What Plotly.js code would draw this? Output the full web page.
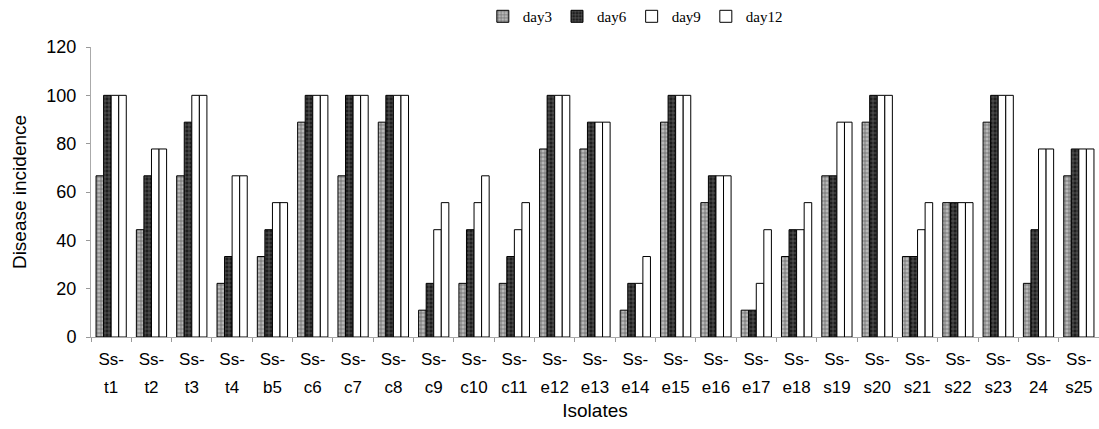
<!DOCTYPE html>
<html>
<head>
<meta charset="utf-8">
<script src="https://cdn.plot.ly/plotly-3.0.1.min.js"></script>
<style>html,body{margin:0;padding:0;background:#fff}#chart{width:1099px;height:429px}</style>
</head>
<body>
<div id="chart"></div>
<script>
const categories = ["Ss-<br>t1","Ss-<br>t2","Ss-<br>t3","Ss-<br>t4","Ss-<br>b5","Ss-<br>c6","Ss-<br>c7","Ss-<br>c8","Ss-<br>c9","Ss-<br>c10","Ss-<br>c11","Ss-<br>e12","Ss-<br>e13","Ss-<br>e14","Ss-<br>e15","Ss-<br>e16","Ss-<br>e17","Ss-<br>e18","Ss-<br>s19","Ss-<br>s20","Ss-<br>s21","Ss-<br>s22","Ss-<br>s23","Ss-<br>24","Ss-<br>s25"];
const day3  = [66.7,44.4,66.7,22.2,33.3,88.9,66.7,88.9,11.1,22.2,22.2,77.8,77.8,11.1,88.9,55.6,11.1,33.3,66.7,88.9,33.3,55.6,88.9,22.2,66.7];
const day6  = [100,66.7,88.9,33.3,44.4,100,100,100,22.2,44.4,33.3,100,88.9,22.2,100,66.7,11.1,44.4,66.7,100,33.3,55.6,100,44.4,77.8];
const day9  = [100,77.8,100,66.7,55.6,100,100,100,44.4,55.6,44.4,100,88.9,22.2,100,66.7,22.2,44.4,88.9,100,44.4,55.6,100,77.8,77.8];
const day12 = [100,77.8,100,66.7,55.6,100,100,100,55.6,66.7,55.6,100,88.9,33.3,100,66.7,44.4,55.6,88.9,100,55.6,55.6,100,77.8,77.8];
const seriesNames = ["day3","day6","day9","day12"];
const yTicks = [0,20,40,60,80,100,120];

const styles = [
  {color:'#a8a8a8', pattern:{shape:'+', fgcolor:'#6a6a6a', bgcolor:'#b8b8b8', size:4, solidity:0.35}},
  {color:'#222', pattern:{shape:'+', fgcolor:'#6a6a6a', bgcolor:'#1e1e1e', size:4, solidity:0.3}},
  {color:'#ffffff'},
  {color:'#ffffff'}
];
const data = [day3, day6, day9, day12].map((v,i)=>({
  type:'bar', name:seriesNames[i], x:categories, y:v,
  marker:Object.assign({line:{color:'#000', width:1}}, styles[i])
}));

// tick labels: larger line spacing via big base font + smaller span
const tickText = categories.map(c => c.split('<br>').map(l => '<span style="font-size:17px">' + l + '</span>').join('<br>'));

const layout = {
  width:1099, height:429,
  margin:{l:91, r:0, t:38, b:92},
  paper_bgcolor:'#fff', plot_bgcolor:'#fff',
  barmode:'group', bargap:0.25, bargroupgap:0,
  font:{family:'"Liberation Sans", Arial, sans-serif', color:'#000'},
  showlegend:true,
  legend:{orientation:'h', x:0.54, xanchor:'center', y:1.105, yanchor:'middle',
          font:{family:'"Liberation Serif", "Times New Roman", serif', size:15},
          itemwidth:30, tracegroupgap:0, bgcolor:'rgba(0,0,0,0)'},
  xaxis:{type:'category', tickson:'boundaries', ticks:'outside', ticklen:4, tickcolor:'#999',
         tickmode:'array', tickvals:categories, ticktext:tickText,
         showline:true, linecolor:'#aaa', linewidth:1, showgrid:false,
         tickfont:{size:21}, tickangle:0, ticklabelstandoff:2,
         title:{text:'Isolates', font:{size:19}, standoff:8}},
  yaxis:{range:[0,120], tickvals:yTicks, ticks:'outside', ticklen:4, tickcolor:'#999',
         showline:true, linecolor:'#aaa', linewidth:1, showgrid:false, zeroline:false,
         tickfont:{size:18}, ticklabelstandoff:6,
         title:{text:'Disease incidence', font:{size:19}, standoff:14}}
};
Plotly.newPlot('chart', data, layout, {displayModeBar:false, staticPlot:true});
</script>
</body>
</html>
